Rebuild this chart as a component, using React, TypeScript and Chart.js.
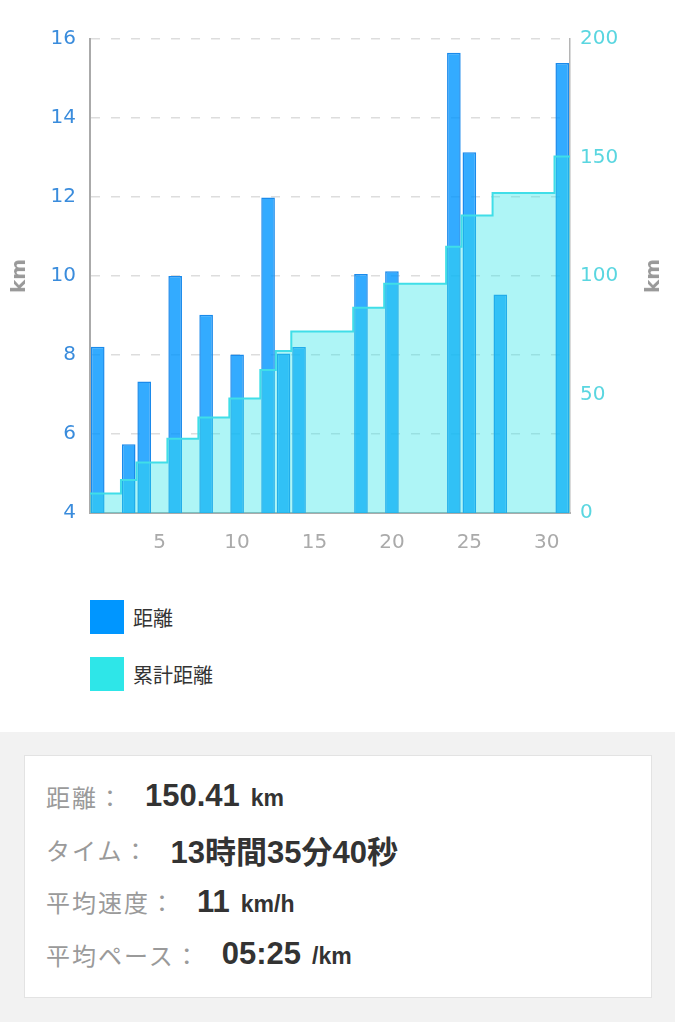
import React, { useEffect, useRef } from "react";
import { Chart, registerables } from "chart.js";

Chart.register(...registerables);

// days of the month
const days = [
  1, 2, 3, 4, 5, 6, 7, 8, 9, 10, 11, 12, 13, 14, 15, 16, 17, 18, 19, 20, 21, 22, 23, 24, 25, 26,
  27, 28, 29, 30, 31,
];

// 距離 (km per day, null = no run)
const dailyKm = [
  8.21, null, 5.74, 7.33, null, 10.0, null, 9.02, null, 8.01, null, 11.99, 8.04, 8.2, null, null,
  null, 10.05, null, 10.12, null, null, null, 15.65, 13.13, null, 9.53, null, null, null, 15.39,
];

// 累計距離 (running total at end of each day)
const cumulativeKm = [
  8.21, 8.21, 13.95, 21.28, 21.28, 31.28, 31.28, 40.3, 40.3, 48.31, 48.31, 60.3, 68.34, 76.54,
  76.54, 76.54, 76.54, 86.59, 86.59, 96.71, 96.71, 96.71, 96.71, 112.36, 125.49, 125.49, 135.02,
  135.02, 135.02, 135.02, 150.41,
];

const leftTicks = [4, 6, 8, 10, 12, 14, 16];
const rightTicks = [0, 50, 100, 150, 200];

const summaryRows = [
  { label: "距離：", value: "150.41", unit: "km" },
  { label: "タイム：", value: "13時間35分40秒", unit: "" },
  { label: "平均速度：", value: "11", unit: "km/h" },
  { label: "平均ペース：", value: "05:25", unit: "/km" },
];

const legendItems = [
  { label: "距離", color: "#0096ff" },
  { label: "累計距離", color: "#2ee6e8" },
];

const tickFont = { family: "'DejaVu Sans', Verdana, sans-serif", size: 20 };
const jpFont = "'Noto Sans CJK JP', 'Noto Sans', sans-serif";

const DistanceChart: React.FC = () => {
  const chartRef = useRef<HTMLCanvasElement | null>(null);
  const chartInstance = useRef<Chart | null>(null);

  useEffect(() => {
    if (!chartRef.current) return;
    if (chartInstance.current) chartInstance.current.destroy();
    const ctx = chartRef.current.getContext("2d");
    if (!ctx) return;

    // step line spans each day's whole slot
    const stepData = days
      .map((d, i) => ({ x: d - 0.5, y: cumulativeKm[i] }))
      .concat([{ x: days.length + 0.5, y: cumulativeKm[cumulativeKm.length - 1] }]);

    chartInstance.current = new Chart(ctx, {
      type: "bar",
      data: {
        labels: days.map(String),
        datasets: [
          {
            type: "line",
            label: "累計距離",
            data: stepData as any,
            xAxisID: "xl",
            yAxisID: "y2",
            stepped: true,
            borderColor: "#40dee8",
            borderWidth: 2,
            backgroundColor: "rgba(46,230,232,0.39)",
            fill: "origin",
            pointRadius: 0,
            order: 0,
          },
          {
            type: "bar",
            label: "距離",
            data: dailyKm as any,
            xAxisID: "x",
            yAxisID: "y",
            backgroundColor: "rgba(0,150,255,0.8)",
            borderColor: "#1a8aeb",
            borderWidth: 1.5,
            grouped: false,
            barPercentage: 0.88,
            categoryPercentage: 1,
            order: 1,
          },
        ],
      },
      options: {
        animation: false,
        responsive: true,
        maintainAspectRatio: false,
        layout: { padding: { top: 39, bottom: 0, left: 0, right: 0 } },
        plugins: {
          legend: { display: false },
          tooltip: { enabled: false },
        },
        scales: {
          x: {
            type: "category",
            offset: true,
            grid: { display: false, drawTicks: false },
            border: { display: true, color: "#aaaaaa", width: 2 },
            ticks: {
              autoSkip: false,
              maxRotation: 0,
              padding: 18,
              color: "#aaaaaa",
              font: tickFont,
              callback: (_v: any, i: number) => (days[i] % 5 === 0 ? String(days[i]) : ""),
            },
            afterFit: (s: any) => {
              s.height = 57;
            },
          },
          xl: {
            type: "linear",
            offset: false,
            min: 0.5,
            max: days.length + 0.5,
            display: false,
            grid: { offset: false },
          },
          y: {
            position: "left",
            min: leftTicks[0],
            max: leftTicks[leftTicks.length - 1],
            afterBuildTicks: (s: any) => {
              s.ticks = leftTicks.map((v) => ({ value: v }));
            },
            grid: { color: "#dddddd", lineWidth: 1.5, drawTicks: false },
            border: { display: true, color: "#aaaaaa", width: 2, dash: [9, 11] },
            ticks: { color: "#3a8cdc", font: tickFont, padding: 14 },
            afterFit: (s: any) => {
              s.width = 90;
            },
          },
          y2: {
            position: "right",
            min: rightTicks[0],
            max: rightTicks[rightTicks.length - 1],
            afterBuildTicks: (s: any) => {
              s.ticks = rightTicks.map((v) => ({ value: v }));
            },
            grid: { drawOnChartArea: false, drawTicks: false },
            border: { display: true, color: "#b5b5b5", width: 1.5 },
            ticks: { color: "#5ad6e0", font: tickFont, padding: 10 },
            afterFit: (s: any) => {
              s.width = 108;
            },
          },
        },
      },
    });

    return () => {
      if (chartInstance.current) {
        chartInstance.current.destroy();
        chartInstance.current = null;
      }
    };
  }, []);

  return (
    <div style={{ position: "absolute", left: 0, top: 0, width: 678, height: 570 }}>
      <canvas ref={chartRef} />
    </div>
  );
};

const axisTitle = (left: number): React.CSSProperties => ({
  position: "absolute",
  left,
  top: 276,
  transform: "translate(-50%, -50%) rotate(-90deg)",
  fontFamily: "'DejaVu Sans', Verdana, sans-serif",
  fontWeight: "bold",
  fontSize: 20,
  color: "#999999",
  lineHeight: 1,
});

export default function App() {
  useEffect(() => {
    document.body.style.margin = "0";
  }, []);

  return (
    <div style={{ position: "relative", width: 678, height: 1024, background: "#ffffff", overflow: "hidden" }}>
      <DistanceChart />
      <div style={axisTitle(18)}>km</div>
      <div style={axisTitle(652)}>km</div>

      {legendItems.map((item, i) => (
        <div
          key={item.label}
          style={{
            position: "absolute",
            left: 90,
            top: 600 + i * 57,
            height: 34,
            display: "flex",
            alignItems: "center",
          }}
        >
          <div style={{ width: 34, height: 34, background: item.color }} />
          <span style={{ marginLeft: 9, fontFamily: jpFont, fontSize: 20, color: "#333333" }}>{item.label}</span>
        </div>
      ))}

      <div
        style={{
          position: "absolute",
          left: 0,
          top: 732,
          width: 675,
          height: 290,
          background: "#f2f2f2",
        }}
      >
        <div
          style={{
            position: "absolute",
            left: 24,
            top: 23,
            width: 628,
            height: 243,
            background: "#ffffff",
            border: "1px solid #e3e3e3",
            boxSizing: "border-box",
            paddingTop: 14,
            paddingLeft: 21,
          }}
        >
          {summaryRows.map((row) => (
            <div key={row.label} style={{ height: 52.7, display: "flex", alignItems: "center" }}>
              <span style={{ fontFamily: jpFont, fontSize: 24, letterSpacing: 2, color: "#9a9a9a" }}>
                {row.label}
              </span>
              <span
                style={{
                  marginLeft: 21,
                  fontFamily: "'Liberation Sans', Arial, 'Noto Sans CJK JP', sans-serif",
                  fontWeight: "bold",
                  fontSize: 31,
                  color: "#333333",
                }}
              >
                {row.value}
              </span>
              {row.unit && (
                <span
                  style={{
                    marginLeft: 11,
                    fontFamily: "'Liberation Sans', Arial, sans-serif",
                    fontWeight: "bold",
                    fontSize: 23,
                    color: "#333333",
                    marginTop: 5,
                  }}
                >
                  {row.unit}
                </span>
              )}
            </div>
          ))}
        </div>
      </div>
    </div>
  );
}
